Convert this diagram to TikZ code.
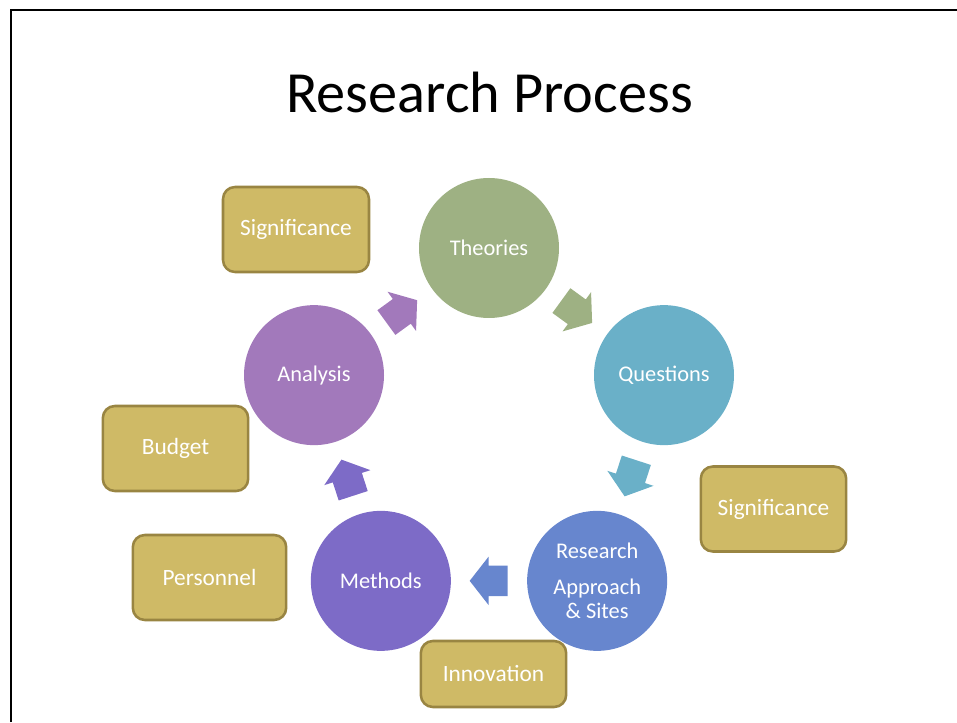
\documentclass[tikz,border=0pt]{standalone}
\usepackage{fontspec}
\setmainfont{Carlito}
\usetikzlibrary{shapes.arrows}
\definecolor{theorygreen}{RGB}{158,177,131}
\definecolor{questionblue}{RGB}{106,176,200}
\definecolor{approachblue}{RGB}{103,134,206}
\definecolor{methodviolet}{RGB}{125,107,199}
\definecolor{analysispurple}{RGB}{162,121,187}
\definecolor{boxgold}{RGB}{207,186,102}
\definecolor{boxedge}{RGB}{153,133,66}
\tikzset{
    stage/.style={circle, minimum size=105pt, inner sep=0pt, text=white,
        font=\fontsize{16.8}{18}\selectfont, align=center},
    aspect/.style={draw=boxedge, line width=1.9pt, fill=boxgold, rounded corners=9pt,
        minimum width=109pt, minimum height=63.75pt, text=white,
        font=\fontsize{17.5}{21}\selectfont},
    turn/.style={single arrow, minimum height=28.5pt, inner xsep=0pt, inner ysep=11.25pt,
        single arrow head extend=6.75pt, single arrow head indent=0pt,
        single arrow tip angle=104, sloped, allow upside down, pos=0.25, anchor=tail}
}

\begin{document}
\begin{tikzpicture}[x=0.75pt, y=0.75pt]
    \useasboundingbox (0,0) rectangle (957,722);
    \draw[line width=1.5pt] (10.5,0) |- (957,711.5);
    \node[anchor=base, font=\fontsize{43.7}{50}\selectfont] (title) at (489.5,609) {Research Process};

    % the cycle
    \begin{scope}[shift={(489,290)}]
        \node[stage, fill=theorygreen] (theories) at (90:184) {Theories};
        \node[stage, fill=questionblue] (questions) at (18:184) {Questions};
        \node[stage, fill=approachblue] (approach) at (-54:184) {Research\\[9pt]Approach\\\& Sites};
        \node[stage, fill=methodviolet] (methods) at (-126:184) {Methods};
        \node[stage, fill=analysispurple] (analysis) at (162:184) {Analysis};
    \end{scope}
    \path (theories) -- node[turn, fill=theorygreen] (t2q) {} (questions);
    \path (questions) -- node[turn, fill=questionblue] (q2a) {} (approach);
    \path (approach) -- node[turn, fill=approachblue] (a2m) {} (methods);
    \path (methods) -- node[turn, fill=methodviolet] (m2a) {} (analysis);
    \path (analysis) -- node[turn, fill=analysispurple] (a2t) {} (theories);

    % proposal parts
    \node[aspect, minimum width=109.5pt] (sigtop) at (296,492.5) {Significance};
    \node[aspect] (budget) at (175.5,273.5) {Budget};
    \node[aspect, minimum width=115pt] (personnel) at (209.5,144.5) {Personnel};
    \node[aspect, minimum height=49.5pt] (innovation) at (493.5,48) {Innovation};
    \node[aspect] (sigright) at (773.5,213) {Significance};
\end{tikzpicture}
\end{document}
